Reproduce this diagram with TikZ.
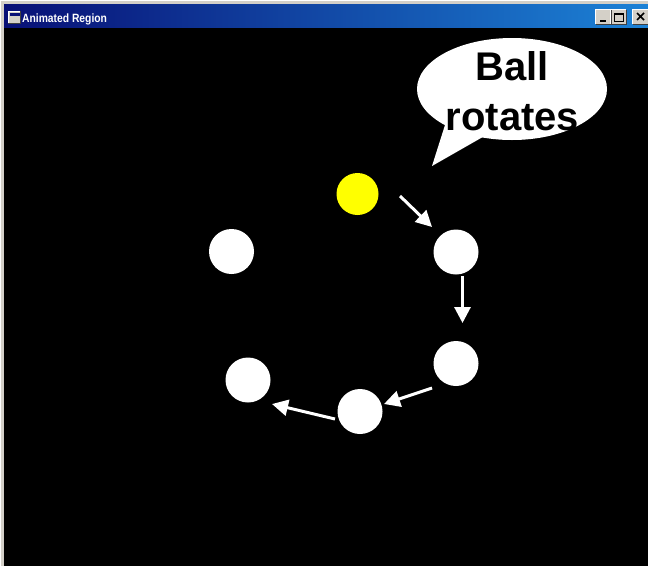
\documentclass[tikz,border=0pt]{standalone}
\usepackage{fontspec}
\setmainfont{Liberation Sans}
\newfontfamily\heavysans{Liberation Sans Bold}
\usetikzlibrary{arrows.meta,shapes.geometric}
\definecolor{wingray}{RGB}{212,208,200}
\definecolor{windark}{RGB}{64,64,64}
\definecolor{tbleft}{RGB}{8,16,118}
\definecolor{tbright}{RGB}{28,130,214}
\definecolor{ballyellow}{RGB}{255,255,0}
\begin{document}
\begin{tikzpicture}[x=1pt,y=-1pt,
  ball/.style={circle,fill=white,minimum size=45pt,inner sep=0pt},
  sunball/.style={circle,fill=ballyellow,minimum size=42pt,inner sep=0pt},
  flow/.style={white,line width=3pt,-{Triangle[length=16pt,width=16pt]}},
  winbtn/.style={rectangle,fill=wingray,minimum width=15pt,minimum height=14pt,inner sep=0pt},
  bubbletext/.style={font=\heavysans\fontsize{40}{40}\selectfont,text=black,inner sep=0pt,anchor=base}]
\useasboundingbox (0,0) rectangle (648,566);
% window frame
\fill[wingray] (0,0) rectangle (648,566);
\draw[white,line width=1pt] (0.5,566) -- (0.5,0.5) -- (648,0.5);
\shade[left color=tbleft,right color=tbright] (4,4) rectangle (648,27);
\fill[black] (4,28) rectangle (648,566);
% title icon
\fill[wingray] (8,11) rectangle (21,24);
\draw[white,line width=0.8pt] (8.4,24) -- (8.4,11.4) -- (21,11.4);
\draw[windark,line width=0.8pt] (8,23.6) -- (20.6,23.6) -- (20.6,11);
\fill[tbleft] (9.5,13) rectangle (19.5,15.5);
\node[anchor=base west,text=white,font=\heavysans\fontsize{12}{12}\selectfont,xscale=0.86,inner sep=0pt] (title) at (22,22) {Animated Region};
% title buttons
\node[winbtn] (bmin) at (603.5,17) {};
\node[winbtn] (bmax) at (618.5,17) {};
\node[winbtn] (bclose) at (640.5,17) {};
\foreach \b in {bmin,bmax,bclose}{
  \draw[white,line width=1pt] (\b.south west) -- (\b.north west) -- (\b.north east);
  \draw[windark,line width=1pt] (\b.south west) -- (\b.south east) -- (\b.north east);
}
\fill[black] (600,19.5) rectangle (606,21.5);
\draw[black,line width=1pt] (614,13) rectangle (623,21);
\fill[black] (614,12.5) rectangle (623,14.5);
\draw[black,line width=1.6pt] (637,13) -- (644,20) (644,13) -- (637,20);
% balls
\node[sunball] (sun) at (357.5,194) {};
\node[ball] (b1) at (456,252) {};
\node[ball] (b2) at (456,363.5) {};
\node[ball] (b3) at (360,411.5) {};
\node[ball] (b4) at (248,380) {};
\node[ball] (b5) at (231.5,251.5) {};
% arrow ends
\coordinate (a1s) at (400,196);
\coordinate (a1e) at (432,227);
\coordinate (a2s) at (462.5,276);
\coordinate (a2e) at (462.5,323);
\coordinate (a3s) at (432,388);
\coordinate (a3e) at (384,404);
\coordinate (a4s) at (335,419);
\coordinate (a4e) at (272,404);
\draw[flow] (a1s) -- (a1e);
\draw[flow] (a2s) -- (a2e);
\draw[flow] (a3s) -- (a3e);
\draw[flow] (a4s) -- (a4e);
% speech bubble
\node[ellipse,fill=white,minimum width=190pt,minimum height=102pt,inner sep=0pt] (bubble) at (512,89) {};
\coordinate (tailtip) at (432,166);
\fill[white] (445,125) -- (tailtip) -- (488,134) -- cycle;
\node[bubbletext] (t1) at (512,80) {Ball};
\node[bubbletext] (t2) at (512.5,130) {rotates};
\end{tikzpicture}
\end{document}
